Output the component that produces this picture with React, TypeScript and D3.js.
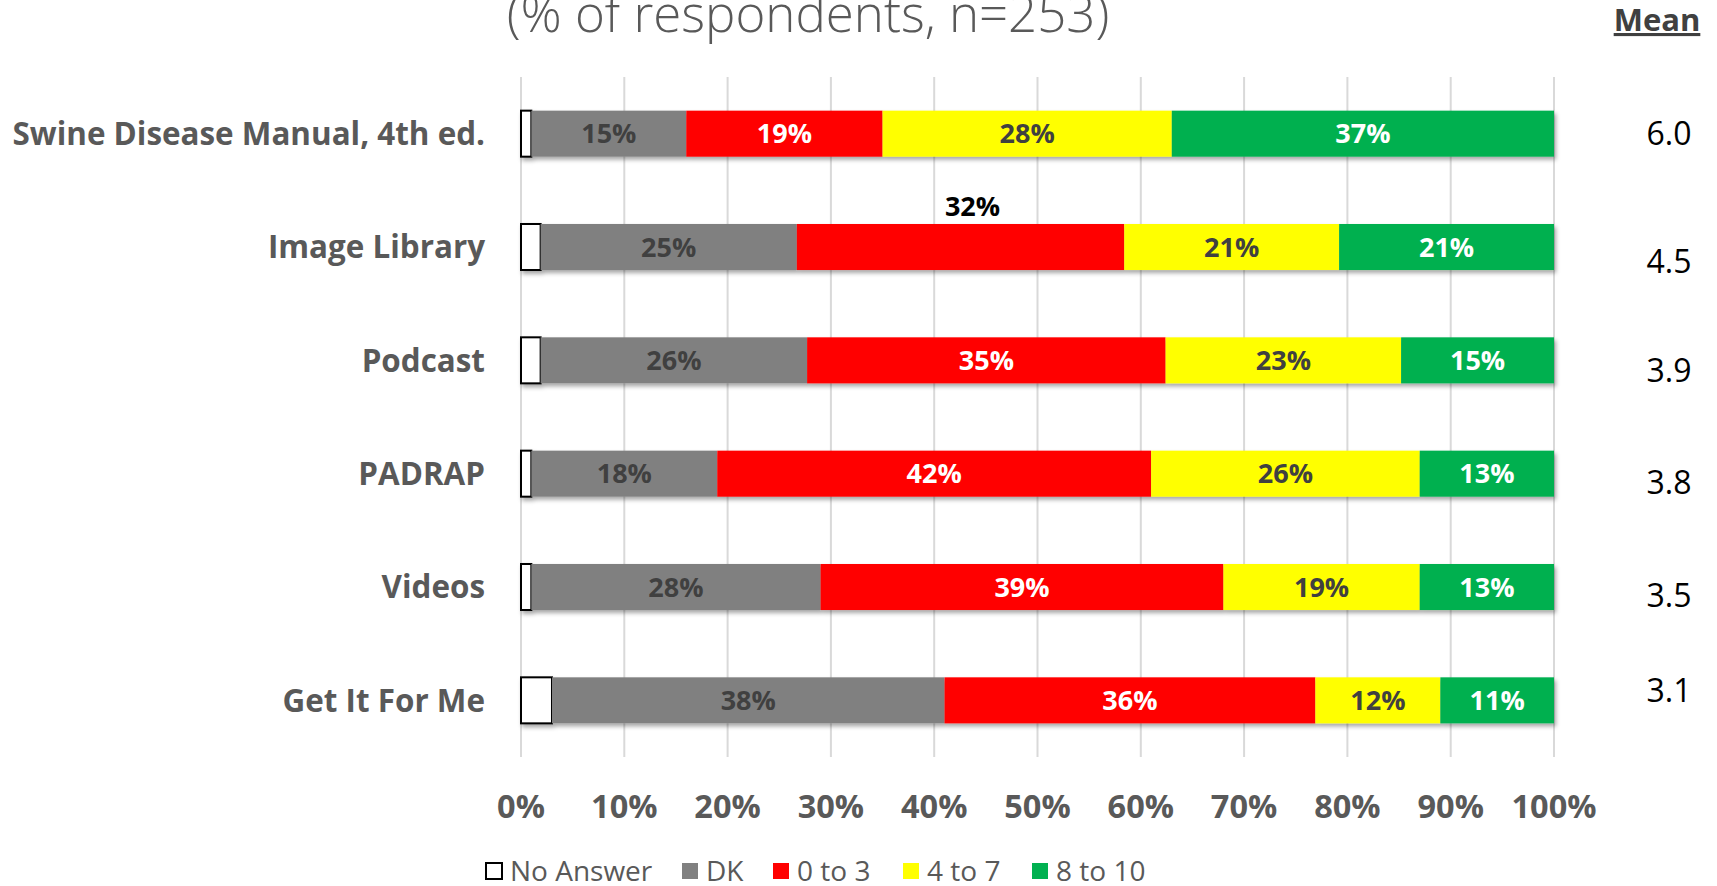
import React from "react";
import * as d3 from "d3";

const categories = [
  "Swine Disease Manual, 4th ed.",
  "Image Library",
  "Podcast",
  "PADRAP",
  "Videos",
  "Get It For Me",
];
const seriesNames = ["No Answer", "DK", "0 to 3", "4 to 7", "8 to 10"];
const noAnswer = [1.0, 1.9, 1.9, 1.0, 1.0, 3.0];
const dk = [15.0, 24.8, 25.8, 18.0, 28.0, 38.0];
const low = [19.0, 31.7, 34.7, 42.0, 39.0, 35.9];
const mid = [28.0, 20.8, 22.8, 26.0, 19.0, 12.1];
const high = [37.0, 20.8, 14.8, 13.0, 13.0, 11.0];
const means = ["6.0", "4.5", "3.9", "3.8", "3.5", "3.1"];
const tickValues = [0, 10, 20, 30, 40, 50, 60, 70, 80, 90, 100];
const tickLabels = ["0%", "10%", "20%", "30%", "40%", "50%", "60%", "70%", "80%", "90%", "100%"];

// styling / layout (kept apart from data)
const W = 1717;
const H = 886;
const FONT = "'Open Sans', 'Noto Sans', sans-serif";
const TEXT = "#595959";
const fills = ["#FFFFFF", "#808080", "#FF0000", "#FFFF00", "#00B050"];
const labelFills = ["none", "#404040", "#FFFFFF", "#404040", "#FFFFFF"];
const meanNudge = [0, 14, 10, 9, 8, -10];
const liftedLabel = { row: 1, series: 2, dx: 12 };

export default function App() {
  const seriesArrays = [noAnswer, dk, low, mid, high];
  const rows = categories.map((c, i) => {
    const r: any = { cat: c };
    seriesNames.forEach((s, k) => (r[s] = seriesArrays[k][i]));
    return r;
  });
  const stacked = d3.stack<any>().keys(seriesNames)(rows);

  const x = d3.scaleLinear().domain([0, 100]).range([521, 1554]);
  const y = d3
    .scaleBand<string>()
    .domain(categories)
    .range([77, 757])
    .paddingInner(0.594)
    .paddingOuter(0.297);
  const bw = y.bandwidth();

  const legendX = [485, 681, 772, 902, 1031];

  return (
    <svg
      width={W}
      height={H}
      style={{ position: "absolute", left: 0, top: 0, background: "#fff" }}
      fontFamily={FONT}
    >
      <defs>
        <filter id="shadow" x="-5%" y="-30%" width="110%" height="170%">
          <feDropShadow dx="2" dy="3" stdDeviation="2.2" floodColor="#000" floodOpacity="0.35" />
        </filter>
      </defs>

      {/* title (partly cut off, as in the source) */}
      <text x={808} y={32} textAnchor="middle" fontSize={51} fontWeight={300} fill={TEXT}>
        (% of respondents, n=253)
      </text>
      <text
        x={1657}
        y={31}
        textAnchor="middle"
        fontSize={31}
        fontWeight={700}
        fill="#404040"
        textDecoration="underline"
      >
        Mean
      </text>

      {/* gridlines */}
      {tickValues.map((t) => (
        <line key={t} x1={x(t)} x2={x(t)} y1={77} y2={757} stroke="#D9D9D9" strokeWidth={2} />
      ))}

      {/* bars */}
      <g filter="url(#shadow)">
        {stacked.map((s, k) =>
          s.map((d, i) => (
            <rect
              key={`${k}-${i}`}
              x={x(d[0])}
              y={y(categories[i])!}
              width={x(d[1]) - x(d[0])}
              height={bw}
              fill={fills[k]}
              stroke={k === 0 ? "#000" : "none"}
              strokeWidth={k === 0 ? 2 : 0}
            />
          ))
        )}
      </g>

      {/* bar labels */}
      {stacked.map((s, k) =>
        k === 0
          ? null
          : s.map((d, i) => {
              const lifted = liftedLabel.row === i && liftedLabel.series === k;
              const cx = (x(d[0]) + x(d[1])) / 2 + (lifted ? liftedLabel.dx : 0);
              const cy = lifted ? y(categories[i])! - 8 : y(categories[i])! + bw / 2;
              return (
                <text
                  key={`l${k}-${i}`}
                  x={cx}
                  y={cy}
                  dy={lifted ? 0 : "0.36em"}
                  textAnchor="middle"
                  fontSize={27}
                  fontWeight={700}
                  fill={lifted ? "#000" : labelFills[k]}
                >
                  {Math.round(d[1] - d[0])}%
                </text>
              );
            })
      )}

      {/* category labels */}
      {categories.map((c) => (
        <text
          key={c}
          x={485}
          y={y(c)! + bw / 2}
          dy="0.36em"
          textAnchor="end"
          fontSize={31.4}
          fontWeight={700}
          fill={TEXT}
        >
          {c}
        </text>
      ))}

      {/* mean values */}
      {categories.map((c, i) => (
        <text
          key={`m${c}`}
          x={1669}
          y={y(c)! + bw / 2 + meanNudge[i]}
          dy="0.36em"
          textAnchor="middle"
          fontSize={32}
          fill="#000"
        >
          {means[i]}
        </text>
      ))}

      {/* x tick labels */}
      {tickValues.map((t, i) => (
        <text
          key={`t${t}`}
          x={x(t)}
          y={818}
          textAnchor="middle"
          fontSize={32.5}
          fontWeight={700}
          fill={TEXT}
        >
          {tickLabels[i]}
        </text>
      ))}

      {/* legend */}
      {seriesNames.map((s, k) => (
        <g key={s} transform={`translate(${legendX[k]},862)`}>
          <rect
            x={1}
            y={1}
            width={16}
            height={16}
            fill={fills[k]}
            stroke={k === 0 ? "#000" : "none"}
            strokeWidth={k === 0 ? 2 : 0}
          />
          <text x={25} y={9} dy="0.36em" fontSize={28} fill={TEXT}>
            {s}
          </text>
        </g>
      ))}
    </svg>
  );
}
